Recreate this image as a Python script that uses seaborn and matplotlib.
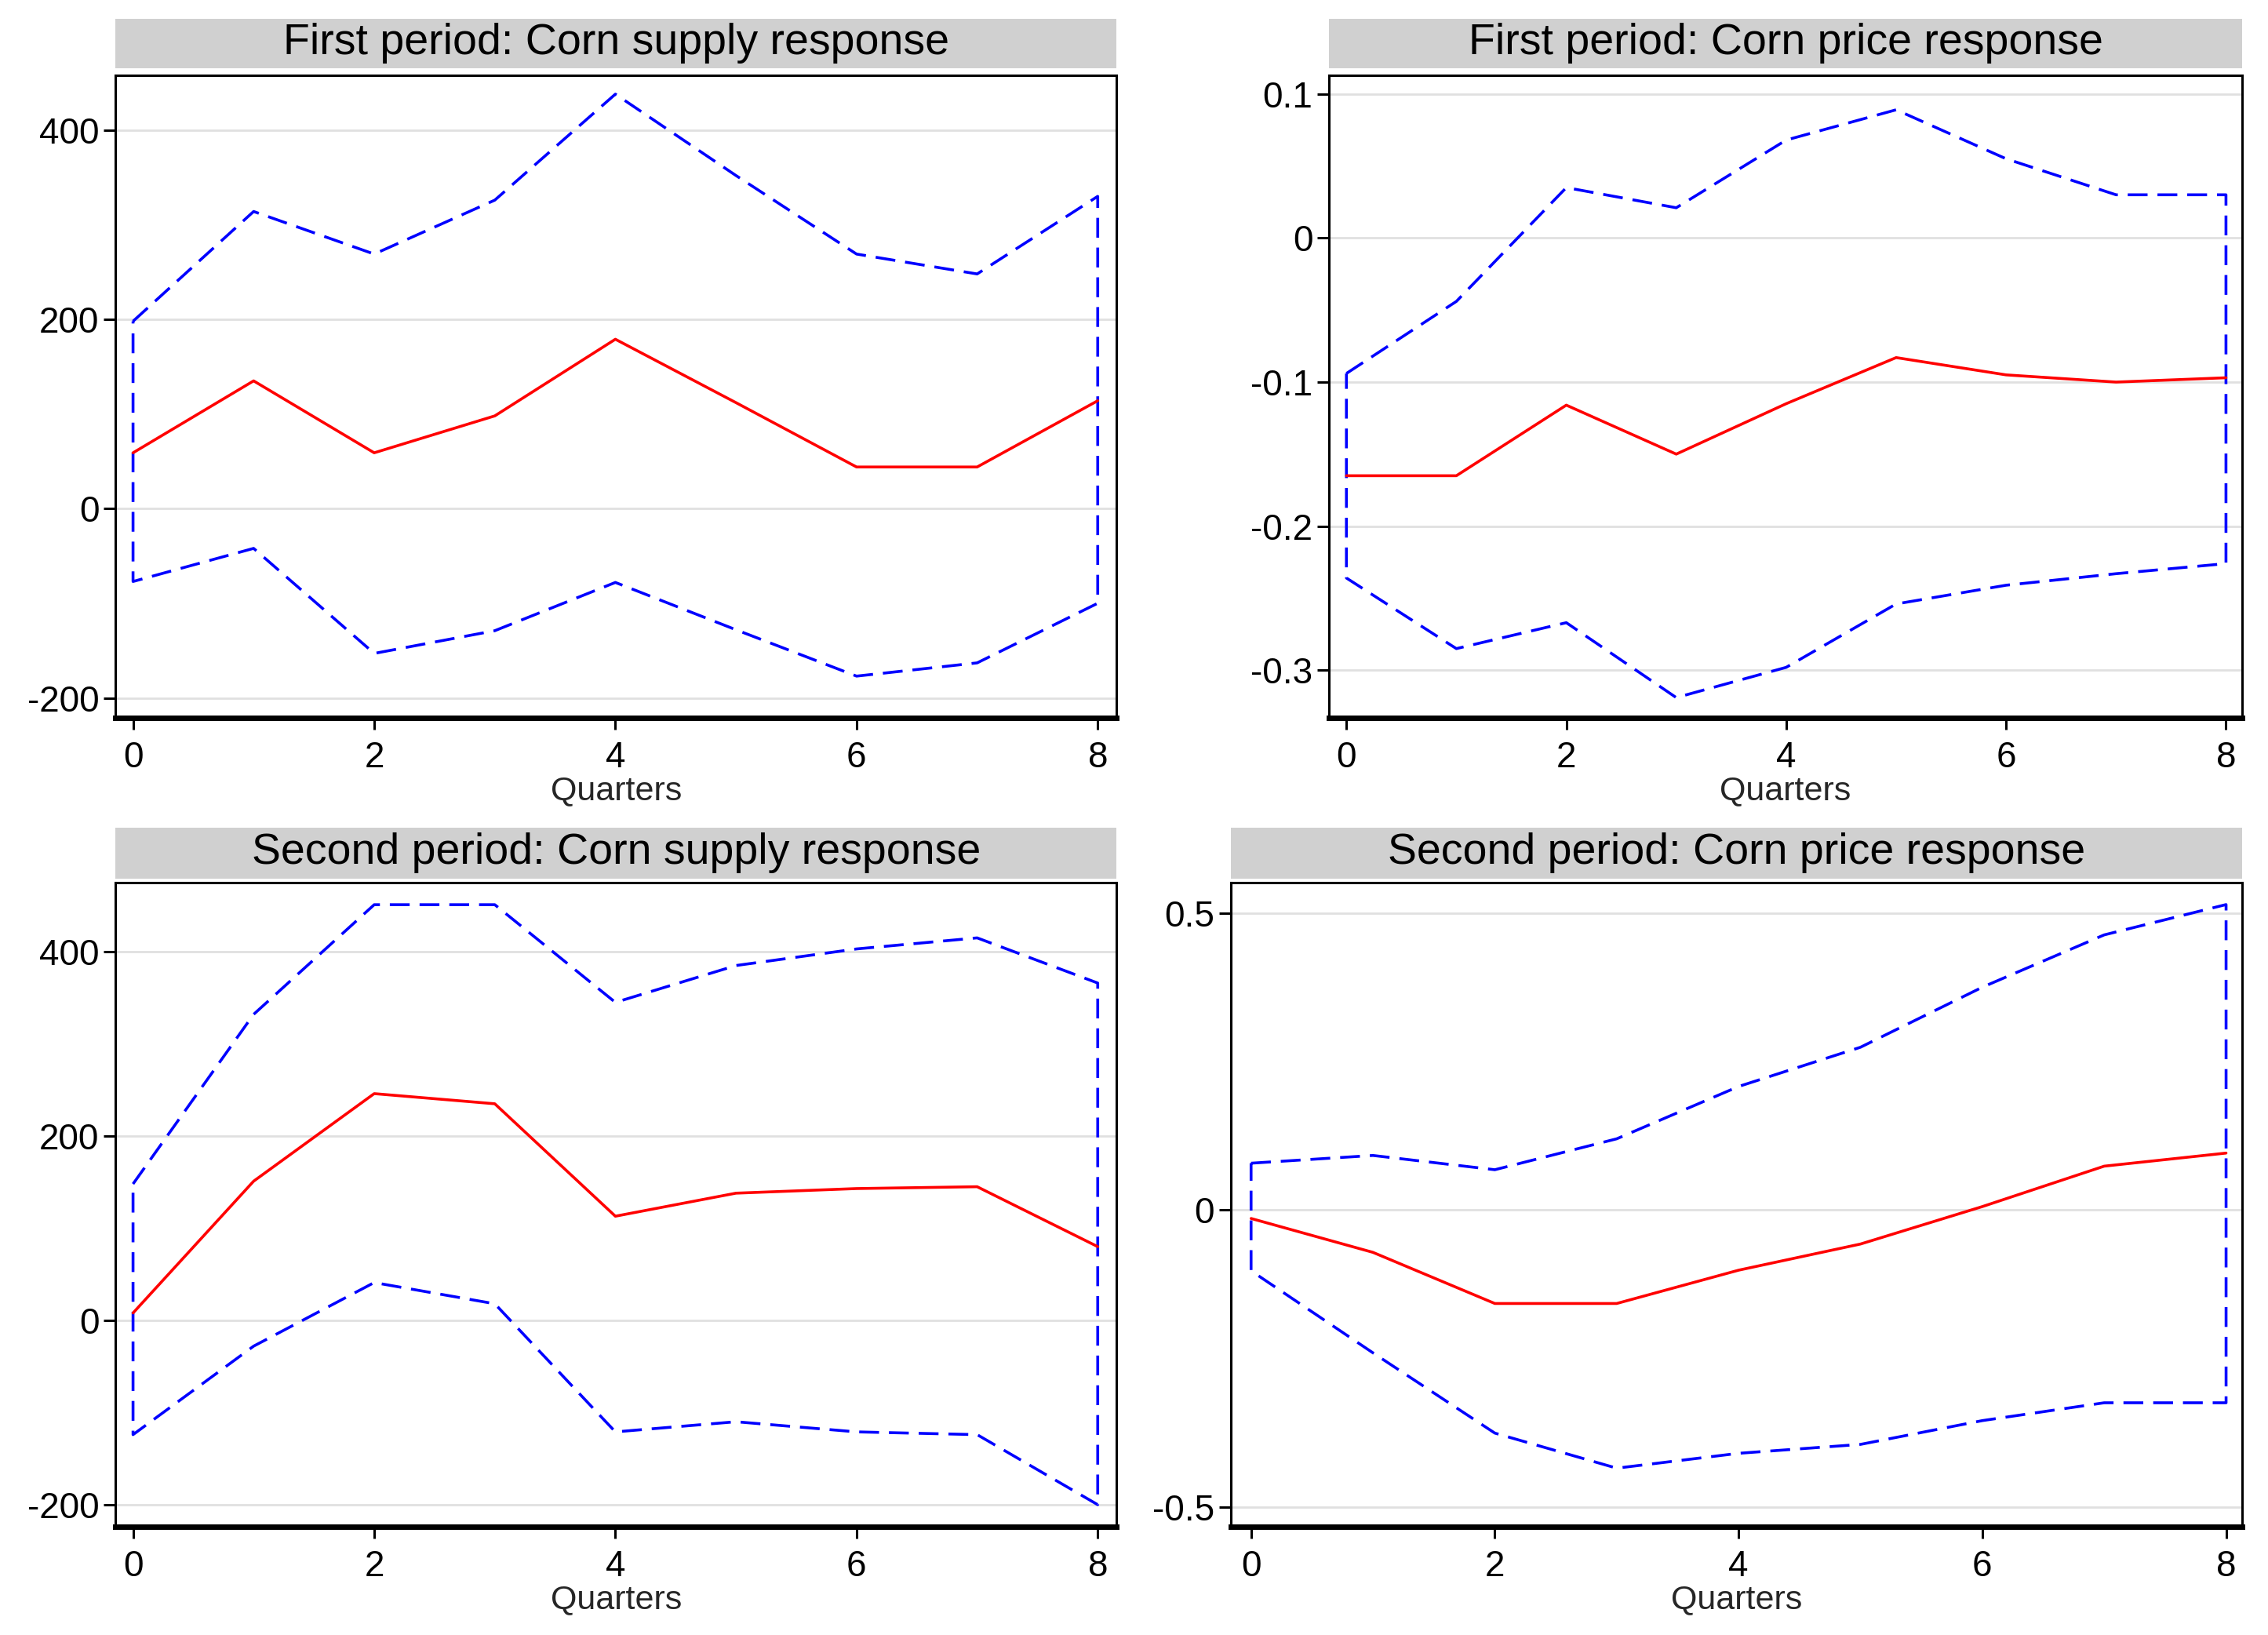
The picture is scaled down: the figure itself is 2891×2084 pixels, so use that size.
import numpy as np
import pandas as pd
import matplotlib
matplotlib.use("Agg")
import matplotlib.pyplot as plt
import seaborn as sns

# quarters after the shock
quarters = [0, 1, 2, 3, 4, 5, 6, 7, 8]

# first period: corn supply response
p1_supply_irf = [59, 135, 59, 98, 179, 112, 44, 44, 114]
p1_supply_hi = [198, 314, 269, 326, 438, 352, 269, 248, 330]
p1_supply_lo = [-77, -42, -153, -129, -78, -128, -177, -163, -100]

# first period: corn price response
p1_price_irf = [-0.165, -0.165, -0.116, -0.150, -0.115, -0.083, -0.095, -0.100, -0.097]
p1_price_hi = [-0.094, -0.044, 0.035, 0.021, 0.068, 0.089, 0.055, 0.030, 0.030]
p1_price_lo = [-0.236, -0.285, -0.267, -0.319, -0.298, -0.254, -0.241, -0.233, -0.226]

# second period: corn supply response
p2_supply_irf = [8, 151, 246, 235, 113, 138, 143, 145, 80]
p2_supply_hi = [148, 332, 451, 451, 345, 385, 403, 415, 366]
p2_supply_lo = [-124, -28, 41, 18, -121, -110, -121, -124, -200]

# second period: corn price response
p2_price_irf = [-0.014, -0.071, -0.157, -0.157, -0.101, -0.057, 0.006, 0.074, 0.096]
p2_price_hi = [0.079, 0.092, 0.068, 0.120, 0.208, 0.274, 0.375, 0.463, 0.514]
p2_price_lo = [-0.102, -0.240, -0.375, -0.434, -0.409, -0.394, -0.354, -0.324, -0.324]

titles = ["First period: Corn supply response", "First period: Corn price response",
          "Second period: Corn supply response", "Second period: Corn price response"]

sns.set_theme(style="white")
plt.rcParams['font.family'] = ['Liberation Sans', 'DejaVu Sans']

fig = plt.figure(figsize=(28.91, 20.84), dpi=100)

# panel boxes: left, bottom, width, height (figure fractions) + strip
panels = [
    dict(box=[0.051, 0.561, 0.4413, 0.393], strip=[0.051, 0.9584, 0.4413, 0.0301],
         irf=p1_supply_irf, hi=p1_supply_hi, lo=p1_supply_lo,
         xlim=(-0.144, 8.156), ylim=(-221, 458), yticks=[-200, 0, 200, 400],
         ylabels=["-200", "0", "200", "400"]),
    dict(box=[0.586, 0.561, 0.4025, 0.393], strip=[0.586, 0.9584, 0.4025, 0.0301],
         irf=p1_price_irf, hi=p1_price_hi, lo=p1_price_lo,
         xlim=(-0.158, 8.145), ylim=(-0.333, 0.113), yticks=[-0.3, -0.2, -0.1, 0, 0.1],
         ylabels=["-0.3", "-0.2", "-0.1", "0", "0.1"]),
    dict(box=[0.051, 0.0664, 0.4413, 0.3938], strip=[0.051, 0.4628, 0.4413, 0.031],
         irf=p2_supply_irf, hi=p2_supply_hi, lo=p2_supply_lo,
         xlim=(-0.144, 8.156), ylim=(-223.6, 475), yticks=[-200, 0, 200, 400],
         ylabels=["-200", "0", "200", "400"]),
    dict(box=[0.5427, 0.0664, 0.4458, 0.3938], strip=[0.5427, 0.4628, 0.4458, 0.031],
         irf=p2_price_irf, hi=p2_price_hi, lo=p2_price_lo,
         xlim=(-0.166, 8.13), ylim=(-0.532, 0.551), yticks=[-0.5, 0, 0.5],
         ylabels=["-0.5", "0", "0.5"]),
]

for p, title in zip(panels, titles):
    ax = fig.add_axes(p["box"])
    ax.set_facecolor("white")

    # closed outline of the confidence band
    band_x = quarters + quarters[::-1] + [quarters[0]]
    band_y = p["hi"] + p["lo"][::-1] + [p["hi"][0]]
    band = pd.DataFrame({"x": band_x, "y": band_y})
    sns.lineplot(data=band, x="x", y="y", sort=False, estimator=None, ax=ax,
                 color="#0000ff", lw=2.6, dashes=False)
    ax.lines[-1].set_dashes((7, 3.5))

    irf = pd.DataFrame({"x": quarters, "y": p["irf"]})
    sns.lineplot(data=irf, x="x", y="y", ax=ax, color="#ff0000", lw=2.6)

    ax.set_xlim(*p["xlim"])
    ax.set_ylim(*p["ylim"])
    ax.set_xticks([0, 2, 4, 6, 8])
    ax.set_xticklabels(["0", "2", "4", "6", "8"])
    ax.set_yticks(p["yticks"])
    ax.set_yticklabels(p["ylabels"])
    ax.set_ylabel("")
    ax.set_xlabel("Quarters", fontsize=31, labelpad=0)

    ax.yaxis.grid(True, color="#e0e0e0", lw=2)
    ax.xaxis.grid(False)
    ax.set_axisbelow(True)

    for side in ["top", "left", "right"]:
        ax.spines[side].set_linewidth(2.2)
        ax.spines[side].set_color("black")
    ax.spines["bottom"].set_linewidth(5)
    ax.spines["bottom"].set_color("black")

    ax.tick_params(axis="both", which="major", direction="out", length=11, width=2.2,
                   color="black", labelsize=33, labelcolor="black")
    ax.tick_params(axis="x", pad=10, bottom=True)
    ax.tick_params(axis="y", pad=4, left=True)

    # gray title strip
    sax = fig.add_axes(p["strip"])
    sax.set_facecolor("#d0d0d0")
    sax.set_xticks([])
    sax.set_yticks([])
    for s in sax.spines.values():
        s.set_visible(False)
    sax.text(0.5, 0.5, title, ha="center", va="center", fontsize=40,
             transform=sax.transAxes, color="black")

fig.savefig("out.png", dpi=100, facecolor="white")
